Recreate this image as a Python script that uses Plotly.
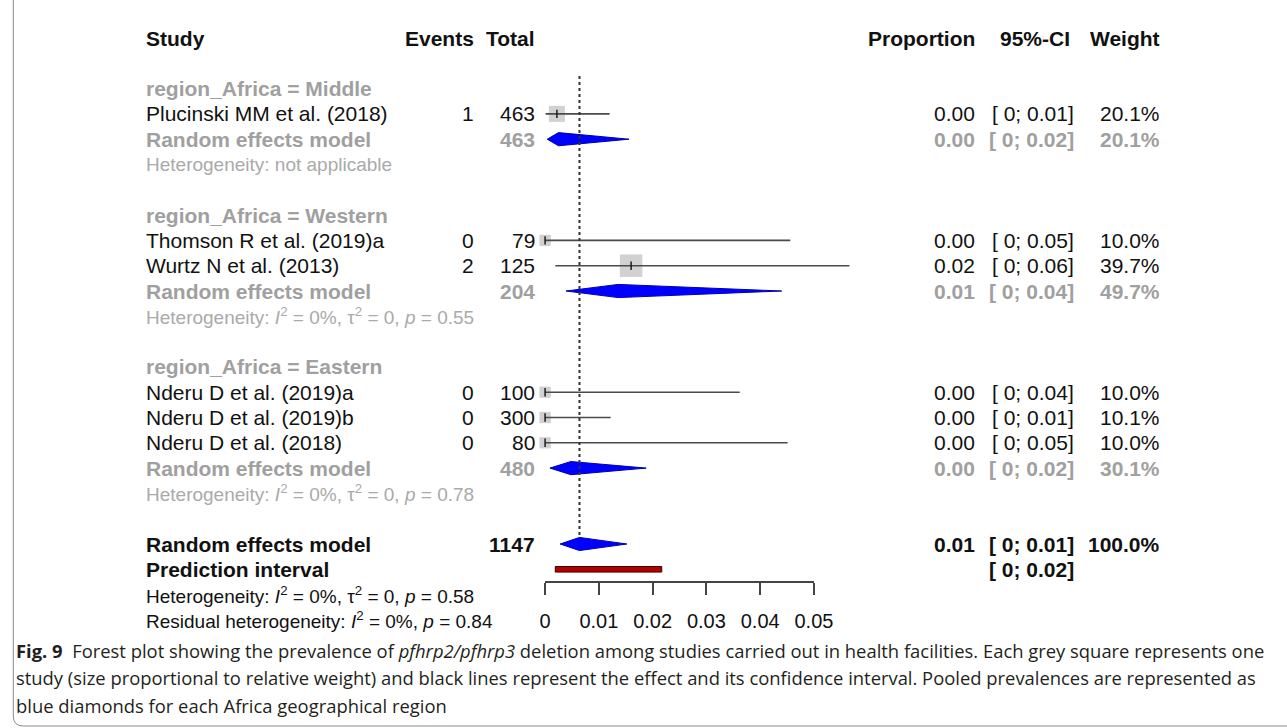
import math
import plotly.graph_objects as go

# ---------------- data ----------------
studies = ["Plucinski MM et al. (2018)", "Thomson R et al. (2019)a", "Wurtz N et al. (2013)",
           "Nderu D et al. (2019)a", "Nderu D et al. (2019)b", "Nderu D et al. (2018)"]
study_rows = [3, 8, 9, 14, 15, 16]
events = [1, 0, 2, 0, 0, 0]
totals = [463, 79, 125, 100, 300, 80]
prop_est = [0.0022, 0.0, 0.016, 0.0, 0.0, 0.0]
ci_lo = [0.0001, 0.0, 0.0019, 0.0, 0.0, 0.0]
ci_hi = [0.0120, 0.0456, 0.0566, 0.0362, 0.0122, 0.0451]
weights = [20.1, 10.0, 39.7, 10.0, 10.1, 10.0]
prop_txt = ["0.00", "0.00", "0.02", "0.00", "0.00", "0.00"]
ci_txt = ["[ 0; 0.01]", "[ 0; 0.05]", "[ 0; 0.06]", "[ 0; 0.04]", "[ 0; 0.01]", "[ 0; 0.05]"]
weight_txt = ["20.1%", "10.0%", "39.7%", "10.0%", "10.1%", "10.0%"]

sub_names = ["region_Africa = Middle", "region_Africa = Western", "region_Africa = Eastern"]
sub_head_rows = [2, 7, 13]
sub_rem_rows = [4, 10, 17]
sub_het_rows = [5, 11, 18]
sub_total = [463, 204, 480]
sub_est = [0.0025, 0.0136, 0.0048]
sub_lo = [0.0004, 0.0039, 0.0009]
sub_hi = [0.0156, 0.0440, 0.0188]
sub_prop_txt = ["0.00", "0.01", "0.00"]
sub_ci_txt = ["[ 0; 0.02]", "[ 0; 0.04]", "[ 0; 0.02]"]
sub_w_txt = ["20.1%", "49.7%", "30.1%"]
sub_het = ["Heterogeneity: not applicable",
           "Heterogeneity: <i>I</i><sup>2</sup> = 0%, τ<sup>2</sup> = 0, <i>p</i> = 0.55",
           "Heterogeneity: <i>I</i><sup>2</sup> = 0%, τ<sup>2</sup> = 0, <i>p</i> = 0.78"]

overall_row = 20
overall_total = 1147
overall_est = 0.0064
overall_lo = 0.0028
overall_hi = 0.0152
overall_prop_txt = "0.01"
overall_ci_txt = "[ 0; 0.01]"
overall_w_txt = "100.0%"
pi_row = 21
pi_lo = 0.0019
pi_hi = 0.0217
pi_txt = "[ 0; 0.02]"
het_overall = "Heterogeneity: <i>I</i><sup>2</sup> = 0%, τ<sup>2</sup> = 0, <i>p</i> = 0.58"
het_resid = "Residual heterogeneity: <i>I</i><sup>2</sup> = 0%, <i>p</i> = 0.84"

tick_vals = [0, 0.01, 0.02, 0.03, 0.04, 0.05]
tick_text = ["0", "0.01", "0.02", "0.03", "0.04", "0.05"]

caption_lines = [
    "<b>Fig. 9</b>  Forest plot showing the prevalence of <i>pfhrp2/pfhrp3</i> deletion among studies carried out in health facilities. Each grey square represents one",
    "study (size proportional to relative weight) and black lines represent the effect and its confidence interval. Pooled prevalences are represented as",
    "blue diamonds for each Africa geographical region",
]

# ---------------- layout constants ----------------
W, H = 1287, 728
ROW0_PX, ROW_H = 38.0, 25.3
X0_PX, X5_PX = 544.0, 813.0
PXU = (X5_PX - X0_PX) / 0.05
XR = [-0.01, 0.07]
# horizontal placement calibration (observed rendering offset/scale)
X_OFF, X_SCALE = 4.7, 0.981

FONT = "Liberation Sans, Arial, sans-serif"
BLACK = "#111111"
GREY = "#a0a0a0"
FS = 21
FS_HET = 19

def px(x):
    return ((x - X_OFF) / X_SCALE) / W

def py(y):
    return 1 - y / H

fig = go.Figure()

# squares (size by weight)
fig.add_trace(go.Scatter(
    x=prop_est, y=study_rows, mode="markers",
    marker=dict(symbol="square", size=[3.57 * math.sqrt(w) for w in weights],
                color="#bdbdbd", line=dict(width=0)),
    hoverinfo="skip"))

# CI lines
cx, cy = [], []
for lo, hi, r in zip(ci_lo, ci_hi, study_rows):
    cx += [lo, hi, None]
    cy += [r, r, None]
fig.add_trace(go.Scatter(x=cx, y=cy, mode="lines",
                         line=dict(color="#4a4a4a", width=1.6), hoverinfo="skip"))

# estimate ticks
fig.add_trace(go.Scatter(
    x=prop_est, y=study_rows, mode="markers",
    marker=dict(symbol="line-ns", size=6, line=dict(width=1.4, color="#111111")),
    hoverinfo="skip"))

# diamonds
def diamond(lo, est, hi, r, h=0.26):
    fig.add_trace(go.Scatter(
        x=[lo, est, hi, est, lo], y=[r, r - h, r, r + h, r],
        mode="lines", fill="toself", fillcolor="#0000ff",
        line=dict(color="#0000b0", width=1), hoverinfo="skip"))

for lo, est, hi, r in zip(sub_lo, sub_est, sub_hi, sub_rem_rows):
    diamond(lo, est, hi, r)
diamond(overall_lo, overall_est, overall_hi, overall_row)

# dotted reference line at pooled estimate
fig.add_trace(go.Scatter(x=[overall_est, overall_est], y=[1.5, overall_row - 0.3],
                         mode="lines", line=dict(color="#333333", width=2, dash="dot"),
                         hoverinfo="skip"))

# bottom axis carrier trace (invisible)
fig.add_trace(go.Scatter(x=[0, 0.05], y=[0, 0], xaxis="x2", yaxis="y2",
                         mode="markers", marker=dict(opacity=0), hoverinfo="skip"))

shapes = []
# prediction interval bar
shapes.append(dict(type="rect", xref="x", yref="y", x0=pi_lo, x1=pi_hi,
                   y0=pi_row - 0.11, y1=pi_row + 0.11,
                   fillcolor="#b40000", line=dict(color="#3a0000", width=1)))
# caption frame (left border with rounded bottom corner)
path = (f"M {px(12)},{py(0)} L {px(12)},{py(716)} "
        f"Q {px(12)},{py(726)} {px(22)},{py(726)} L {px(1300)},{py(726)}")
shapes.append(dict(type="path", xref="paper", yref="paper", path=path,
                   line=dict(color="#8a8a8a", width=1)))

ann = []

def txt(text, xpx, row, anchor, color=BLACK, size=FS, bold=False):
    if bold:
        text = f"<b>{text}</b>"
    ann.append(dict(text=text, x=px(xpx), xref="paper", y=row, yref="y",
                    xanchor=anchor, yanchor="middle", showarrow=False,
                    font=dict(family=FONT, size=size, color=color)))

COL_STUDY, COL_EV, COL_TOT = 143, 475, 536
COL_PROP, COL_CI, COL_W = 976, 1075, 1161
COL_CI_HEAD = 1071

# header
txt("Study", COL_STUDY, 0, "left", bold=True)
txt("Events", COL_EV, 0, "right", bold=True)
txt("Total", COL_TOT, 0, "right", bold=True)
txt("Proportion", COL_PROP, 0, "right", bold=True)
txt("95%-CI", COL_CI_HEAD, 0, "right", bold=True)
txt("Weight", COL_W, 0, "right", bold=True)

# studies
for i, r in enumerate(study_rows):
    txt(studies[i], COL_STUDY, r, "left")
    txt(str(events[i]), COL_EV, r, "right")
    txt(str(totals[i]), COL_TOT, r, "right")
    txt(prop_txt[i], COL_PROP, r, "right")
    txt(ci_txt[i], COL_CI, r, "right")
    txt(weight_txt[i], COL_W, r, "right")

# subgroups
for i in range(3):
    txt(sub_names[i], COL_STUDY, sub_head_rows[i], "left", color=GREY, bold=True)
    txt("Random effects model", COL_STUDY, sub_rem_rows[i], "left", color=GREY, bold=True)
    txt(str(sub_total[i]), COL_TOT, sub_rem_rows[i], "right", color=GREY, bold=True)
    txt(sub_prop_txt[i], COL_PROP, sub_rem_rows[i], "right", color=GREY, bold=True)
    txt(sub_ci_txt[i], COL_CI, sub_rem_rows[i], "right", color=GREY, bold=True)
    txt(sub_w_txt[i], COL_W, sub_rem_rows[i], "right", color=GREY, bold=True)
    txt(sub_het[i], COL_STUDY, sub_het_rows[i], "left", color="#aaaaaa", size=FS_HET)

# overall
txt("Random effects model", COL_STUDY, overall_row, "left", bold=True)
txt(str(overall_total), COL_TOT, overall_row, "right", bold=True)
txt(overall_prop_txt, COL_PROP, overall_row, "right", bold=True)
txt(overall_ci_txt, COL_CI, overall_row, "right", bold=True)
txt(overall_w_txt, COL_W, overall_row, "right", bold=True)
txt("Prediction interval", COL_STUDY, pi_row, "left", bold=True)
txt(pi_txt, COL_CI, pi_row, "right", bold=True)
txt(het_overall, COL_STUDY, 22, "left", size=FS_HET)
txt(het_resid, COL_STUDY, 23, "left", size=FS_HET)

# caption
for k, line in enumerate(caption_lines):
    ann.append(dict(text=line, x=px(13), xref="paper", y=py(650 + 27.5 * k), yref="paper",
                    xanchor="left", yanchor="middle", showarrow=False,
                    font=dict(family="Open Sans, Noto Sans, sans-serif", size=18.4, color="#231f20")))

y_top = -ROW0_PX / ROW_H
y_bot = (H - ROW0_PX) / ROW_H

fig.update_layout(
    width=W, height=H, autosize=False,
    margin=dict(l=0, r=0, t=0, b=0, pad=0),
    paper_bgcolor="white", plot_bgcolor="rgba(0,0,0,0)",
    showlegend=False,
    xaxis=dict(domain=[px(X0_PX + XR[0] * PXU), px(X0_PX + XR[1] * PXU)],
               range=XR, visible=False, fixedrange=True),
    yaxis=dict(domain=[0, 1], range=[y_bot, y_top], visible=False, fixedrange=True),
    xaxis2=dict(domain=[px(X0_PX), px(X5_PX)], range=[0, 0.05], anchor="y2",
                showline=True, linecolor="#444444", linewidth=1.5,
                ticks="outside", ticklen=12, tickwidth=1.5, tickcolor="#444444",
                tickvals=tick_vals, ticktext=tick_text, showgrid=False, zeroline=False,
                tickfont=dict(family=FONT, size=20, color=BLACK), ticklabelstandoff=9),
    yaxis2=dict(domain=[py(581), py(575)], anchor="x2", visible=False, range=[-1, 1]),
    shapes=shapes, annotations=ann,
)

fig.write_html("out.html", config={"displayModeBar": False},
               post_script="document.body.style.margin='0';document.body.style.overflow='hidden';")
